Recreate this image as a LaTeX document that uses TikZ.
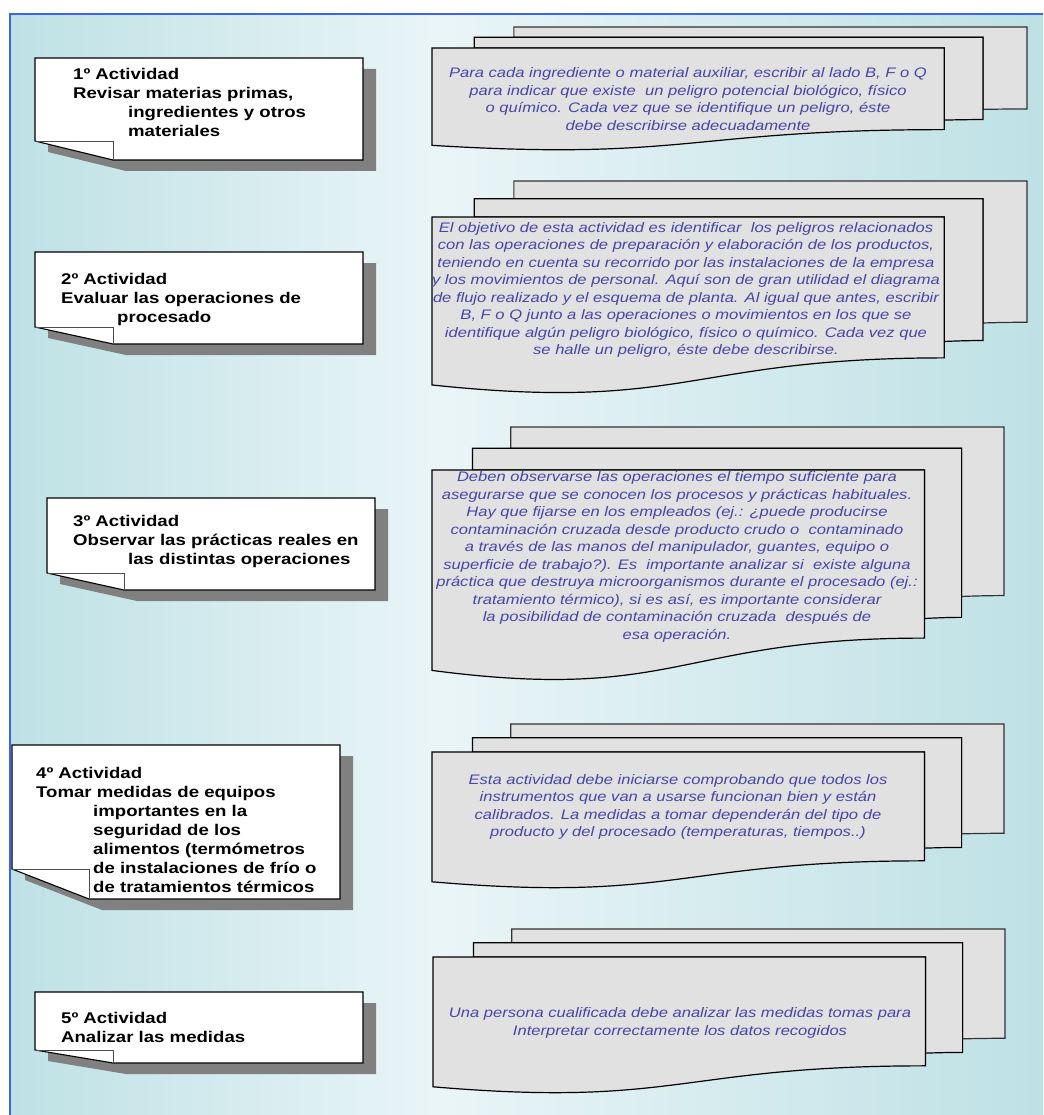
\documentclass[tikz,border=0pt]{standalone}
\usepackage{fontspec}
\setmainfont{Liberation Sans}[FakeStretch=1.2]
\definecolor{bgside}{RGB}{190,225,229}
\definecolor{bgmid}{RGB}{234,245,247}
\definecolor{framebl}{RGB}{58,99,245}
\definecolor{pagegray}{RGB}{225,225,225}
\definecolor{shadowgray}{RGB}{128,128,128}
\definecolor{txtblue}{RGB}{70,70,168}
\tikzset{
  noteshadow/.style={fill=shadowgray, draw=none},
  noteshape/.style={fill=white, draw=black, line width=1.1pt, line join=miter},
  foldline/.style={draw=black!70, line width=0.8pt},
  frontpage/.style={fill=pagegray, draw=black, line width=1.2pt, line join=miter},
  backpage/.style={fill=pagegray, draw=black!80, line width=1.2pt, line join=miter},
  notetext/.style={anchor=north west, inner sep=0pt, align=left, font=\bfseries\fontsize{15.5}{19}\selectfont},
  doctext/.style={inner sep=0pt, align=center, text=txtblue, font=\itshape\fontsize{13.8}{17.5}\selectfont},
}
% #1 L, #2 T, #3 R, #4 B, #5 fold y on left edge, #6 fold x on bottom edge
\newcommand\actbox[6]{%
  \fill[noteshadow] (#1+13,#2+11) -- (#3+13,#2+11) -- (#3+13,#4+11) -- (#6+13,#4+11) -- (#1+13,#5+11) -- cycle;
  \draw[noteshape] (#1,#2) -- (#3,#2) -- (#3,#4) -- (#6,#4) -- (#1,#5) -- cycle;
  \draw[foldline] (#1,#5) -- (#6,#5) -- (#6,#4);
}
% #1 x0, #2 y0, #3 width, #4 height
\newcommand\multidoc[4]{%
  \pgfmathsetmacro\mdsx{#3/216}%
  \pgfmathsetmacro\mdsy{#4/216}%
  \begin{scope}[shift={(#1,#2)}, x=\mdsx pt, y=-\mdsy pt]
    \draw[backpage] (29.72,18.15) -- (29.72,0) -- (216,0) -- (216,143.92)
      .. controls (208,143.92) and (200,144.67) .. (200,144.67) -- (200,18.15) -- cycle;
    \draw[frontpage] (15.32,36.75) -- (15.32,18.15) -- (200,18.15) -- (200,162.52)
      .. controls (192.98,162.52) and (185.95,163.52) .. (185.95,163.52) -- (185.95,36.75) -- cycle;
    \draw[frontpage] (0,207.82) .. controls (92.98,235.42) and (92.98,180.22) .. (185.95,180.22)
      -- (185.95,36.75) -- (0,36.75) -- cycle;
  \end{scope}
}
\begin{document}
\begin{tikzpicture}[x=1pt, y=-1pt]
  \useasboundingbox (0,0) rectangle (1043,1115);
  \fill[white] (0,0) rectangle (1043,1115);
  \shade[left color=bgside, right color=bgmid] (10,14) rectangle (440,1115);
  \shade[left color=bgmid, right color=bgside] (440,14) rectangle (1043,1115);
  \draw[framebl, line width=2.5pt] (10,1115) -- (10,14) -- (1043,14);

  % activity boxes
  \actbox{35}{58}{363}{160}{141}{113}
  \node[notetext] (a1) at (73,68) {1º Actividad\\Revisar materias primas,\\\hspace*{55pt}ingredientes y otros\\\hspace*{55pt}materiales};

  \actbox{35}{252}{363}{344}{327}{113}
  \node[notetext] (a2) at (61,273) {2º Actividad\\Evaluar las operaciones de\\\hspace*{56pt}procesado};

  \actbox{47}{498}{375}{590}{573}{124}
  \node[notetext] (a3) at (73,515) {3º Actividad\\Observar las prácticas reales en\\\hspace*{55pt}las distintas operaciones};

  \actbox{12}{745}{340}{899}{869}{89}
  \node[notetext] (a4) at (36,767) {4º Actividad\\Tomar medidas de equipos\\\hspace*{57pt}importantes en la\\\hspace*{57pt}seguridad de los\\\hspace*{57pt}alimentos (termómetros\\\hspace*{57pt}de instalaciones de frío o\\\hspace*{57pt}de tratamientos térmicos};

  \actbox{35}{992}{363}{1063}{1050}{113}
  \node[notetext] (a5) at (61,1012) {5º Actividad\\Analizar las medidas};

  % multi-document shapes
  \multidoc{432}{27}{595}{123}
  \node[doctext] (d1) at (688,99) {Para cada ingrediente o material auxiliar, escribir al lado B, F o Q\\para indicar que existe\ \ un peligro potencial biológico, físico\\o químico. Cada vez que se identifique un peligro, éste\\debe describirse adecuadamente};

  \multidoc{432}{181}{595}{212}
  \node[doctext] (d2) at (686,290) {El objetivo de esta actividad es identificar\ \ los peligros relacionados\\con las operaciones de preparación y elaboración de los productos,\\teniendo en cuenta su recorrido por las instalaciones de la empresa\\y los movimientos de personal. Aquí son de gran utilidad el diagrama\\de flujo realizado y el esquema de planta. Al igual que antes, escribir\\B, F o Q junto a las operaciones o movimientos en los que se\\identifique algún peligro biológico, físico o químico. Cada vez que\\se halle un peligro, éste debe describirse.};

  \multidoc{432}{427}{572}{253}
  \node[doctext] (d3) at (677,557) {Deben observarse las operaciones el tiempo suficiente para\\asegurarse que se conocen los procesos y prácticas habituales.\\Hay que fijarse en los empleados (ej.: ¿puede producirse\\contaminación cruzada desde producto crudo o\ \ contaminado\\a través de las manos del manipulador, guantes, equipo o\\superficie de trabajo?). Es\ \ importante analizar si\ \ existe alguna\\práctica que destruya microorganismos durante el procesado (ej.:\\tratamiento térmico), si es así, es importante considerar\\la posibilidad de contaminación cruzada\ \ después de\\esa operación.};

  \multidoc{432}{724}{572}{164}
  \node[doctext] (d4) at (678,807) {Esta actividad debe iniciarse comprobando que todos los\\instrumentos que van a usarse funcionan bien y están\\calibrados. La medidas a tomar dependerán del tipo de\\producto y del procesado (temperaturas, tiempos..)};

  \multidoc{433}{929}{572}{164}
  \node[doctext] (d5) at (680,1023) {Una persona cualificada debe analizar las medidas tomas para\\Interpretar correctamente los datos recogidos};
\end{tikzpicture}
\end{document}
